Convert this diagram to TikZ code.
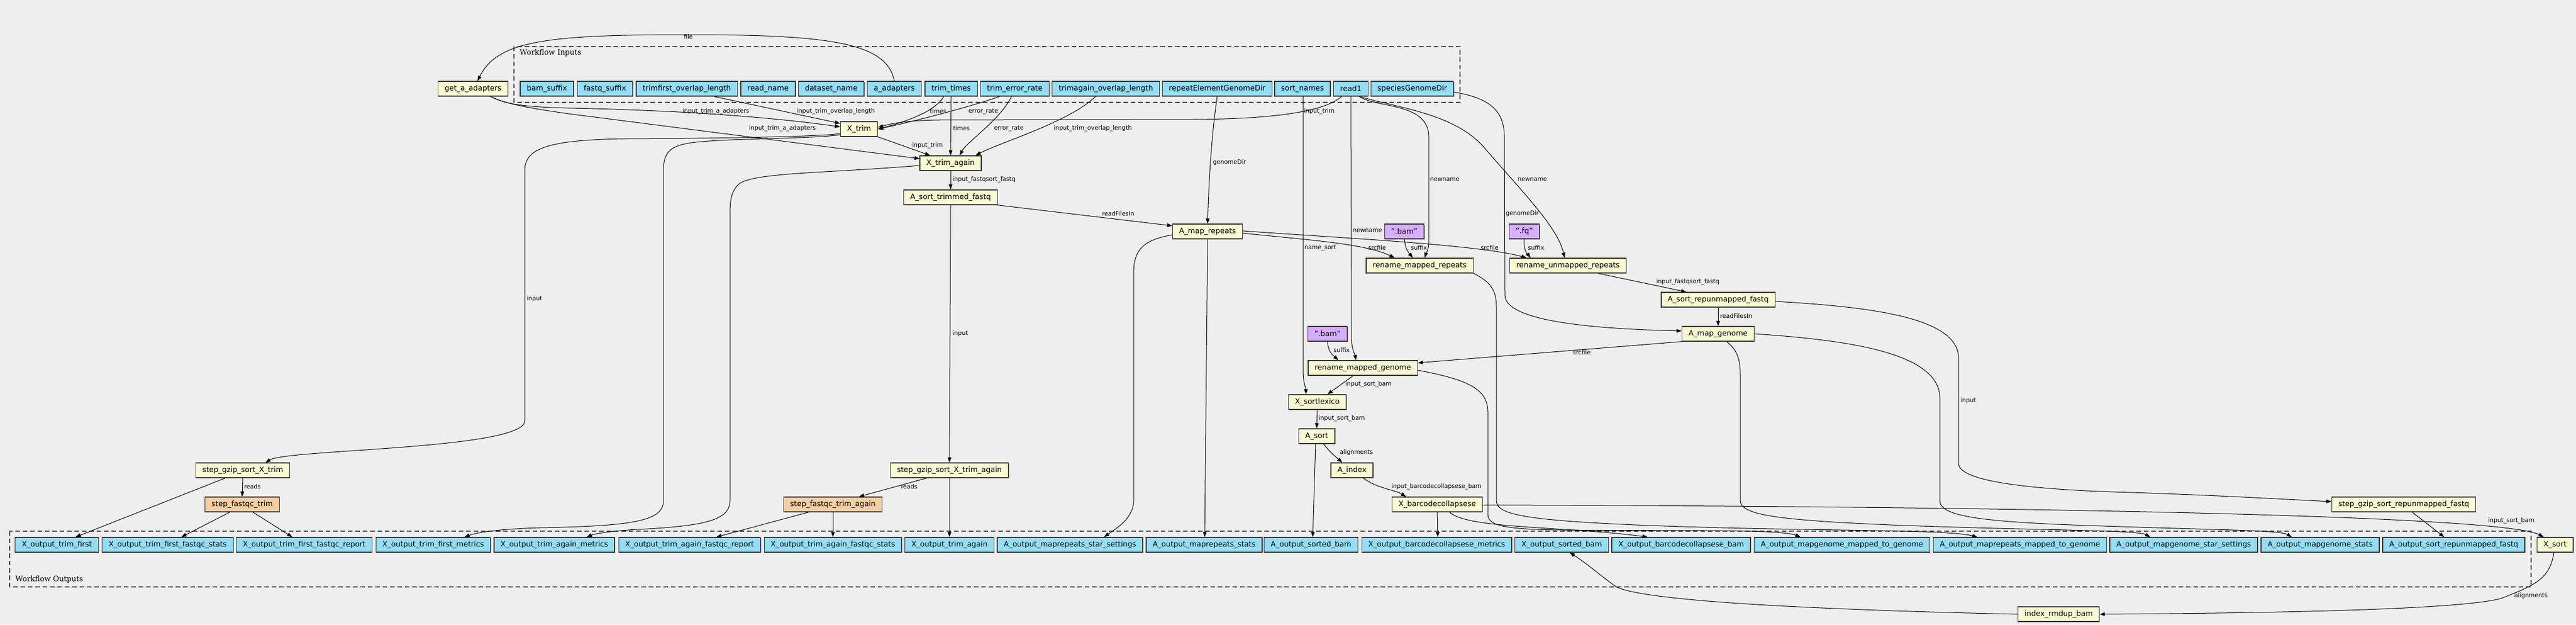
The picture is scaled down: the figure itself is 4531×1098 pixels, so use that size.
\documentclass[tikz,border=0pt]{standalone}
\usepackage{fontspec}
\setmainfont{DejaVu Sans}
\newfontfamily\clusterfont{DejaVu Serif}
\usetikzlibrary{arrows.meta,shadows}
\definecolor{bgGray}{HTML}{EEEEEE}
\definecolor{ioBlue}{HTML}{94DDF4}
\definecolor{stepYellow}{HTML}{FAFAD2}
\definecolor{valPurple}{HTML}{D5AEFC}
\definecolor{subOrange}{HTML}{F3CEA1}

\begin{document}
\begin{tikzpicture}[x=1pt,y=-1pt,
  box/.style={draw=black!80, line width=1.4pt, minimum height=26pt, inner xsep=11.5pt, inner ysep=0pt,
    font=\fontsize{13}{15}\selectfont,
    drop shadow={shadow xshift=0.8pt, shadow yshift=-1.2pt, fill=black!60, opacity=1}},
  io/.style={box, fill=ioBlue},
  stepbox/.style={box, fill=stepYellow},
  valbox/.style={box, fill=valPurple},
  subbox/.style={box, fill=subOrange},
  edge/.style={draw=black, line width=1pt, -{Triangle[length=9pt,width=6.5pt]}},
  lbl/.style={anchor=west, inner sep=0pt, font=\fontsize{10.5}{12}\selectfont},
  cluster/.style={draw=black!75, line width=1.3pt, dash pattern=on 8pt off 5pt},
  clabel/.style={anchor=west, inner sep=0pt, font=\clusterfont\fontsize{13}{15}\selectfont}]

\useasboundingbox (0,0) rectangle (4531,1098);
\fill[bgGray] (0,0) rectangle (4531,1098);

\draw[cluster] (904,82) rectangle (2568,180);
\node[clabel] (inLabel) at (914,93) {Workflow Inputs};
\draw[cluster] (17,934) rectangle (4452,1032);
\node[clabel] (outLabel) at (27,1019) {Workflow Outputs};

\node[stepbox] (getAdapters) at (832,156) {get\_a\_adapters};
\node[io] (bamSuffix) at (962,156) {bam\_suffix};
\node[io] (fastqSuffix) at (1064,156) {fastq\_suffix};
\node[io] (trimfirstLen) at (1208,156) {trimfirst\_overlap\_length};
\node[io] (readName) at (1351,156) {read\_name};
\node[io] (datasetName) at (1462,156) {dataset\_name};
\node[io] (aAdapters) at (1573,156) {a\_adapters};
\node[io] (trimTimes) at (1673,156) {trim\_times};
\node[io] (trimErr) at (1785,156) {trim\_error\_rate};
\node[io] (trimagainLen) at (1945,156) {trimagain\_overlap\_length};
\node[io] (repeatDir) at (2141,156) {repeatElementGenomeDir};
\node[io] (sortNames) at (2291,156) {sort\_names};
\node[io] (readOne) at (2376,156) {read1};
\node[io] (speciesDir) at (2484,156) {speciesGenomeDir};

\node[stepbox] (xTrim) at (1511,227) {X\_trim};
\node[stepbox] (xTrimAgain) at (1672,287) {X\_trim\_again};
\node[stepbox] (sortTrimmed) at (1672,347) {A\_sort\_trimmed\_fastq};
\node[stepbox] (mapRepeats) at (2124,407) {A\_map\_repeats};
\node[valbox] (bamA) at (2470,407) {".bam"};
\node[valbox] (fqA) at (2681,407) {".fq"};
\node[stepbox] (renMapRep) at (2497,467) {rename\_mapped\_repeats};
\node[stepbox] (renUnmapRep) at (2758,467) {rename\_unmapped\_repeats};
\node[stepbox] (sortRepunm) at (3022,527) {A\_sort\_repunmapped\_fastq};
\node[stepbox] (mapGenome) at (3022,587) {A\_map\_genome};
\node[valbox] (bamB) at (2335,587) {".bam"};
\node[stepbox] (renMapGen) at (2397,647) {rename\_mapped\_genome};
\node[stepbox] (sortLexico) at (2317,707) {X\_sortlexico};
\node[stepbox] (aSort) at (2316,767) {A\_sort};
\node[stepbox] (aIndex) at (2378,827) {A\_index};
\node[stepbox] (barcode) at (2528,887) {X\_barcodecollapsese};
\node[stepbox] (gzipTrim) at (427,827) {step\_gzip\_sort\_X\_trim};
\node[subbox] (fastqcTrim) at (426,887) {step\_fastqc\_trim};
\node[stepbox] (gzipTrimAgain) at (1670,827) {step\_gzip\_sort\_X\_trim\_again};
\node[subbox] (fastqcTrimAgain) at (1465,887) {step\_fastqc\_trim\_again};
\node[stepbox] (gzipRepunm) at (4228,887) {step\_gzip\_sort\_repunmapped\_fastq};
\node[stepbox] (xSort) at (4494,958) {X\_sort};
\node[stepbox] (indexRmdup) at (3621,1080) {index\_rmdup\_bam};

\node[io] (oTrimFirst) at (100,958) {X\_output\_trim\_first};
\node[io] (oTrimFirstStats) at (295,958) {X\_output\_trim\_first\_fastqc\_stats};
\node[io] (oTrimFirstReport) at (535,958) {X\_output\_trim\_first\_fastqc\_report};
\node[io] (oTrimFirstMetrics) at (762,958) {X\_output\_trim\_first\_metrics};
\node[io] (oTrimAgainMetrics) at (975,958) {X\_output\_trim\_again\_metrics};
\node[io] (oTrimAgainReport) at (1213,958) {X\_output\_trim\_again\_fastqc\_report};
\node[io] (oTrimAgainStats) at (1465,958) {X\_output\_trim\_again\_fastqc\_stats};
\node[io] (oTrimAgain) at (1670,958) {X\_output\_trim\_again};
\node[io] (oRepStar) at (1882,958) {A\_output\_maprepeats\_star\_settings};
\node[io] (oRepStats) at (2118,958) {A\_output\_maprepeats\_stats};
\node[io] (oSortedBamA) at (2306,958) {A\_output\_sorted\_bam};
\node[io] (oBarcodeMetrics) at (2527,958) {X\_output\_barcodecollapsese\_metrics};
\node[io] (oSortedBamX) at (2747,958) {X\_output\_sorted\_bam};
\node[io] (oBarcodeBam) at (2957,958) {X\_output\_barcodecollapsese\_bam};
\node[io] (oGenMapped) at (3240,958) {A\_output\_mapgenome\_mapped\_to\_genome};
\node[io] (oRepMapped) at (3553,958) {A\_output\_maprepeats\_mapped\_to\_genome};
\node[io] (oGenStar) at (3841,958) {A\_output\_mapgenome\_star\_settings};
\node[io] (oGenStats) at (4081,958) {A\_output\_mapgenome\_stats};
\node[io] (oSortRepunm) at (4316,958) {A\_output\_sort\_repunmapped\_fastq};

\draw[edge] (aAdapters.north) .. controls (1560,75) and (1460,61) .. (1209,61) .. controls (960,61) and (875,72) .. ([xshift=8pt]getAdapters.north) node[lbl] (lbFile) at (1202,65) {file};
\draw[edge] ([xshift=31pt]getAdapters.south) .. controls (890,184) and (925,188) .. (1000,190) .. controls (1250,195) and (1400,212) .. ([yshift=4pt]xTrim.west) node[lbl] (lbAdaptA) at (1200,196) {input\_trim\_a\_adapters};
\draw[edge] ([xshift=31pt]getAdapters.south) .. controls (890,183) and (930,190) .. (1000,200) -- ([yshift=8pt]xTrimAgain.west) node[lbl] (lbAdaptB) at (1317,226) {input\_trim\_a\_adapters};
\draw[edge] ([xshift=48pt]trimfirstLen.south) -- ([yshift=10pt]xTrim.west) node[lbl] (lbOverA) at (1401,196) {input\_trim\_overlap\_length};
\draw[edge] ([xshift=-13pt]trimTimes.south) .. controls (1645,195) and (1600,212) .. (xTrim.east) node[lbl] (lbTimesA) at (1635,196) {times};
\draw[edge] ([xshift=-27pt]trimErr.south) .. controls (1700,190) and (1600,215) .. (xTrim.east) node[lbl] (lbErrA) at (1703,196) {error\_rate};
\draw[edge] ([xshift=-16pt]readOne.south) .. controls (2330,195) and (2250,209) .. (2100,210) -- (1650,211) .. controls (1590,212) and (1565,218) .. ([yshift=3pt]xTrim.east) node[lbl] (lbTrimA) at (2293,196) {input\_trim};
\draw[edge] (xTrim.south east) -- ([xshift=-36pt]xTrimAgain.north) node[lbl] (lbTrimB) at (1604,256) {input\_trim};
\draw[edge] (trimTimes.south) -- (xTrimAgain.north) node[lbl] (lbTimesB) at (1676,226) {times};
\draw[edge] ([xshift=-6pt]trimErr.south) .. controls (1760,210) and (1700,250) .. ([xshift=16pt]xTrimAgain.north) node[lbl] (lbErrB) at (1748,226) {error\_rate};
\draw[edge] ([xshift=-18pt]trimagainLen.south) .. controls (1880,215) and (1760,250) .. ([xshift=44pt]xTrimAgain.north) node[lbl] (lbOverB) at (1853,226) {input\_trim\_overlap\_length};
\draw[edge] (xTrimAgain.south) -- (sortTrimmed.north) node[lbl] (lbFqA) at (1675,316) {input\_fastqsort\_fastq};
\draw[edge] (sortTrimmed.south east) -- ([yshift=10pt]mapRepeats.west) node[lbl] (lbReadsA) at (1938,376) {readFilesIn};
\draw[edge] (repeatDir.south) .. controls (2132,230) and (2127,300) .. (mapRepeats.north) node[lbl] (lbDirA) at (2133,286) {genomeDir};
\draw[edge] ([xshift=1pt]sortNames.south) -- (2292,650) .. controls (2292,675) and (2297,682) .. ([xshift=-20pt]sortLexico.north) node[lbl] (lbNameSort) at (2294,436) {name\_sort};
\draw[edge] (readOne.south) -- (2377,590) .. controls (2377,615) and (2383,622) .. ([xshift=-12pt]renMapGen.north) node[lbl] (lbNewA) at (2379,406) {newname};
\draw[edge] ([xshift=15pt]readOne.south) .. controls (2420,190) and (2513,180) .. (2513,240) -- (2513,425) .. controls (2513,440) and (2508,446) .. ([xshift=9pt]renMapRep.north) node[lbl] (lbNewB) at (2515,316) {newname};
\draw[edge] ([xshift=15pt]readOne.south) .. controls (2460,190) and (2560,200) .. (2611,260) .. controls (2680,340) and (2740,400) .. ([xshift=-6pt]renUnmapRep.north) node[lbl] (lbNewC) at (2669,316) {newname};
\draw[edge] ([yshift=-6pt]speciesDir.east) .. controls (2620,172) and (2646,195) .. (2646,240) -- (2647,520) .. controls (2650,565) and (2800,578) .. ([yshift=5pt]mapGenome.west) node[lbl] (lbDirB) at (2648,376) {genomeDir};
\draw[edge] ([yshift=-3pt]mapRepeats.east) .. controls (2300,422) and (2400,428) .. ([xshift=-44pt]renMapRep.north) node[lbl] (lbSrcA) at (2406,436) {srcfile};
\draw[edge] ([yshift=1pt]mapRepeats.east) .. controls (2350,418) and (2600,430) .. ([xshift=-73pt]renUnmapRep.north) node[lbl] (lbSrcB) at (2604,436) {srcfile};
\draw[edge] (bamA.south) .. controls (2473,438) .. ([xshift=-12pt]renMapRep.north) node[lbl] (lbSufA) at (2481,436) {suffix};
\draw[edge] (fqA.south) .. controls (2679,442) and (2688,448) .. ([xshift=-66pt]renUnmapRep.north) node[lbl] (lbSufB) at (2687,436) {suffix};
\draw[edge] ([xshift=53pt]renUnmapRep.south) -- ([xshift=-56pt]sortRepunm.north) node[lbl] (lbFqB) at (2913,496) {input\_fastqsort\_fastq};
\draw[edge] (sortRepunm.south) -- (mapGenome.north) node[lbl] (lbReadsB) at (3025,556) {readFilesIn};
\draw[edge] ([yshift=-3pt]sortRepunm.east) .. controls (3300,540) and (3445,560) .. (3445,630) -- (3445,815) .. controls (3445,850) and (3600,862) .. (3750,866) .. controls (3900,871) and (4000,877) .. ([yshift=5pt]gzipRepunm.west) node[lbl] (lbInC) at (3448,705) {input};
\draw[edge] (mapGenome.south west) -- ([yshift=9pt]renMapGen.east) node[lbl] (lbSrcC) at (2766,620) {srcfile};
\draw[edge] (bamB.south) .. controls (2336,620) and (2346,626) .. ([xshift=-43pt]renMapGen.north) node[lbl] (lbSufC) at (2345,616) {suffix};
\draw[edge] ([xshift=-17pt]renMapGen.south) -- ([xshift=18pt]sortLexico.north) node[lbl] (lbBamA) at (2366,676) {input\_sort\_bam};
\draw[edge] (sortLexico.south) -- (aSort.north) node[lbl] (lbBamB) at (2319,736) {input\_sort\_bam};
\draw[edge] ([xshift=12pt]aSort.south) .. controls (2340,795) .. ([xshift=-17pt]aIndex.north) node[lbl] (lbAlignA) at (2356,796) {alignments};
\draw[edge] ([xshift=-2pt]aSort.south) -- ([xshift=3pt]oSortedBamA.north);
\draw[edge] ([xshift=20pt]aIndex.south) .. controls (2420,858) and (2455,862) .. ([xshift=-55pt]barcode.north) node[lbl] (lbCollapse) at (2447,856) {input\_barcodecollapsese\_bam};
\draw[edge] (barcode.south) -- ([xshift=2pt]oBarcodeMetrics.north);
\draw[edge] ([xshift=22pt]barcode.south) .. controls (2580,930) and (2750,925) .. ([xshift=-59pt]oBarcodeBam.north);
\draw[edge] ([yshift=-1pt]barcode.east) .. controls (3500,890) and (4400,905) .. ([xshift=-20pt]xSort.north) node[lbl] (lbBamC) at (4376,916) {input\_sort\_bam};
\draw[edge] ([xshift=-2pt]xSort.south) .. controls (4485,1020) and (4455,1030) .. (4400,1052) .. controls (4330,1072) and (4000,1078) .. (indexRmdup.east) node[lbl] (lbAlignB) at (4422,1048) {alignments};
\draw[edge] (indexRmdup.west) .. controls (3100,1070) and (2870,1052) .. (2840,1030) .. controls (2810,1008) and (2790,990) .. ([xshift=14pt]oSortedBamX.south);
\draw[edge] ([xshift=15pt]gzipRepunm.south) -- ([xshift=-17pt]oSortRepunm.north);
\draw[edge] ([yshift=-6pt]mapRepeats.west) .. controls (2010,422) and (1994,440) .. (1994,480) -- (1994,880) .. controls (1994,912) and (1962,930) .. ([xshift=60pt]oRepStar.north);
\draw[edge] (mapRepeats.south) -- ([xshift=1pt]oRepStats.north);
\draw[edge] (renMapRep.south east) .. controls (2622,496) and (2632,510) .. (2632,540) -- (2632,880) .. controls (2632,905) and (2680,915) .. (2900,924) .. controls (3200,935) and (3420,930) .. ([xshift=-75pt]oRepMapped.north);
\draw[edge] ([yshift=-4pt]renMapGen.east) .. controls (2585,668) and (2617,685) .. (2617,725) -- (2617,905) .. controls (2617,925) and (2650,931) .. (2750,932) .. controls (2950,934) and (3130,930) .. ([xshift=-73pt]oGenMapped.north);
\draw[edge] ([xshift=15pt]mapGenome.south) .. controls (3055,615) and (3061,630) .. (3061,660) -- (3061,880) .. controls (3061,905) and (3120,915) .. (3350,924) .. controls (3600,933) and (3760,932) .. ([xshift=-59pt]oGenStar.north);
\draw[edge] (mapGenome.east) .. controls (3250,598) and (3412,620) .. (3412,700) -- (3412,880) .. controls (3412,908) and (3480,918) .. (3700,925) .. controls (3900,932) and (4010,932) .. ([xshift=-50pt]oGenStats.north);
\draw[edge] ([yshift=-8pt]xTrim.west) .. controls (1440,240) and (1300,243) .. (1100,244) .. controls (960,246) and (923,262) .. (923,300) -- (923,740) .. controls (923,790) and (505,790) .. ([xshift=40pt]gzipTrim.north) node[lbl] (lbInA) at (926,526) {input};
\draw[edge] ([yshift=-10pt]xTrim.west) .. controls (1420,245) and (1260,243) .. (1210,252) .. controls (1175,258) and (1167,272) .. (1167,300) -- (1167,880) .. controls (1167,915) and (1120,925) .. (950,928) .. controls (880,930) and (840,936) .. ([xshift=55pt]oTrimFirstMetrics.north);
\draw[edge] ([yshift=-4pt]xTrimAgain.west) .. controls (1450,305) and (1320,303) .. (1298,325) .. controls (1287,337) and (1284,350) .. (1284,375) -- (1284,880) .. controls (1284,915) and (1240,925) .. (1120,931) .. controls (1070,934) and (1045,939) .. ([xshift=57pt]oTrimAgainMetrics.north);
\draw[edge] (sortTrimmed.south) -- (gzipTrimAgain.north) node[lbl] (lbInB) at (1675,587) {input};
\draw[edge] ([xshift=-31pt]gzipTrim.south) -- ([xshift=33pt]oTrimFirst.north);
\draw[edge] (gzipTrim.south) -- (fastqcTrim.north) node[lbl] (lbReadsC) at (429,856) {reads};
\draw[edge] ([xshift=-22pt]fastqcTrim.south) -- ([xshift=24pt]oTrimFirstStats.north);
\draw[edge] ([xshift=19pt]fastqcTrim.south) -- ([xshift=-21pt]oTrimFirstReport.north);
\draw[edge] ([xshift=-40pt]gzipTrimAgain.south) -- ([xshift=46pt]fastqcTrimAgain.north) node[lbl] (lbReadsD) at (1584,856) {reads};
\draw[edge] (gzipTrimAgain.south) -- (oTrimAgain.north);
\draw[edge] ([xshift=-43pt]fastqcTrimAgain.south) -- ([xshift=47pt]oTrimAgainReport.north);
\draw[edge] (fastqcTrimAgain.south) -- (oTrimAgainStats.north);

\end{tikzpicture}
\end{document}
